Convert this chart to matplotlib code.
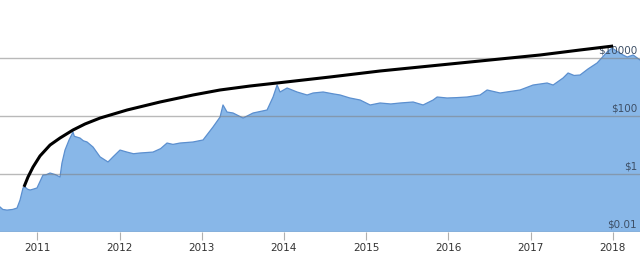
import matplotlib
matplotlib.use("Agg")
import matplotlib.pyplot as plt
from matplotlib.transforms import offset_copy

# Price history (year, USD)
price_years = [2010.546, 2010.580, 2010.631, 2010.700, 2010.753, 2010.790, 2010.826, 2010.850,
               2010.880, 2010.911, 2010.950, 2010.996,
               2011.069, 2011.110, 2011.155, 2011.220, 2011.276, 2011.300, 2011.337, 2011.386,
               2011.434, 2011.450, 2011.519, 2011.560,
               2011.605, 2011.678, 2011.763, 2011.860, 2011.921, 2012.006, 2012.091, 2012.170,
               2012.249, 2012.407, 2012.500, 2012.578, 2012.650, 2012.736, 2012.894, 2013.016,
               2013.138, 2013.223, 2013.259,
               2013.308, 2013.381, 2013.503, 2013.625, 2013.795, 2013.868, 2013.917, 2013.953,
               2014.039, 2014.160, 2014.282, 2014.355, 2014.477, 2014.600, 2014.684, 2014.800,
               2014.927, 2015.049,
               2015.170, 2015.300, 2015.414, 2015.572, 2015.693, 2015.815, 2015.864, 2015.985,
               2016.100, 2016.229,
               2016.387, 2016.472, 2016.630, 2016.750, 2016.873, 2017.031, 2017.202, 2017.275,
               2017.396,
               2017.457, 2017.530, 2017.603, 2017.700, 2017.810, 2017.932, 2017.993, 2018.066,
               2018.120, 2018.176, 2018.249, 2018.332]
price_values = [0.073, 0.060, 0.057, 0.060, 0.067, 0.127, 0.33, 0.36,
                0.30, 0.28, 0.30, 0.33,
                0.92, 0.95, 1.08, 0.95, 0.79, 2.4, 6.7, 14.9,
                28, 20, 17.4, 14,
                12.7, 8.5, 3.9, 2.6, 3.9, 6.7, 5.7, 5.0,
                5.3, 5.7, 7.5, 11.7, 10.5, 11.7, 12.7, 14.9,
                42, 92, 240,
                137, 127, 85, 127, 161, 452, 1170, 673,
                924, 673, 530, 621, 673, 580, 530, 420,
                356, 240,
                281, 260, 281, 304, 240, 356, 452, 418,
                430, 452,
                530, 789, 621, 700, 789, 1170, 1374, 1170,
                2044,
                3040, 2500, 2593, 4200, 6730, 16100, 22000, 16100,
                13000, 10800, 12700, 8530]

# Black trend curve (year, USD)
trend_years = [2010.838, 2010.887, 2010.948, 2011.033, 2011.155, 2011.276, 2011.434, 2011.580,
               2011.763, 2012.092, 2012.493, 2012.894, 2013.223, 2013.588, 2013.917, 2014.561,
               2015.170, 2016.143, 2017.117, 2017.603, 2018.005]
trend_values = [0.36, 0.79, 1.74, 4.2, 10, 17.4, 32.9, 53,
                85, 161, 304, 530, 789, 1082, 1374, 2213,
                3565, 6730, 12700, 18900, 25900]

x_ticks = [2011, 2012, 2013, 2014, 2015, 2016, 2017, 2018]
x_labels = ["2011", "2012", "2013", "2014", "2015", "2016", "2017", "2018"]
y_levels = [0.01, 1, 100, 10000]
y_labels = ["$0.01", "$1", "$100", "$10000"]

fig = plt.figure(figsize=(6.4, 2.68), dpi=100)
ax = fig.add_axes([0, 36 / 268, 1, 232 / 268])
ax.set_yscale("log")
ax.set_xlim(2010.546, 2018.332)
ax.set_ylim(0.01, 1e6)

ax.fill_between(price_years, 0.01, price_values, color="#88b7e8", linewidth=0, zorder=1)
ax.plot(price_years, price_values, color="#5b8fcf", linewidth=0.9, zorder=2)

for lv in y_levels:
    ax.axhline(lv, color="#808080", alpha=0.55, linewidth=1.0, zorder=3)

for lv, lab in zip(y_levels, y_labels):
    tr = offset_copy(ax.get_yaxis_transform(), fig=fig, x=-2, y=1.5, units="points")
    ax.text(1.0, lv, lab, transform=tr, ha="right", va="bottom",
            fontsize=7.5, color="#3d4f66", zorder=4)

ax.plot(trend_years, trend_values, color="black", linewidth=2.2, zorder=5,
        solid_capstyle="butt", solid_joinstyle="round")

for s in ax.spines.values():
    s.set_visible(False)
ax.set_yticks([])
ax.yaxis.set_minor_locator(matplotlib.ticker.NullLocator())
ax.set_xticks(x_ticks)
ax.set_xticklabels(x_labels)
ax.tick_params(axis="x", length=6, width=0.8, color="#b0b0b0", pad=2,
               labelsize=7.5, labelcolor="#333333")

fig.savefig("out.png", dpi=100)
